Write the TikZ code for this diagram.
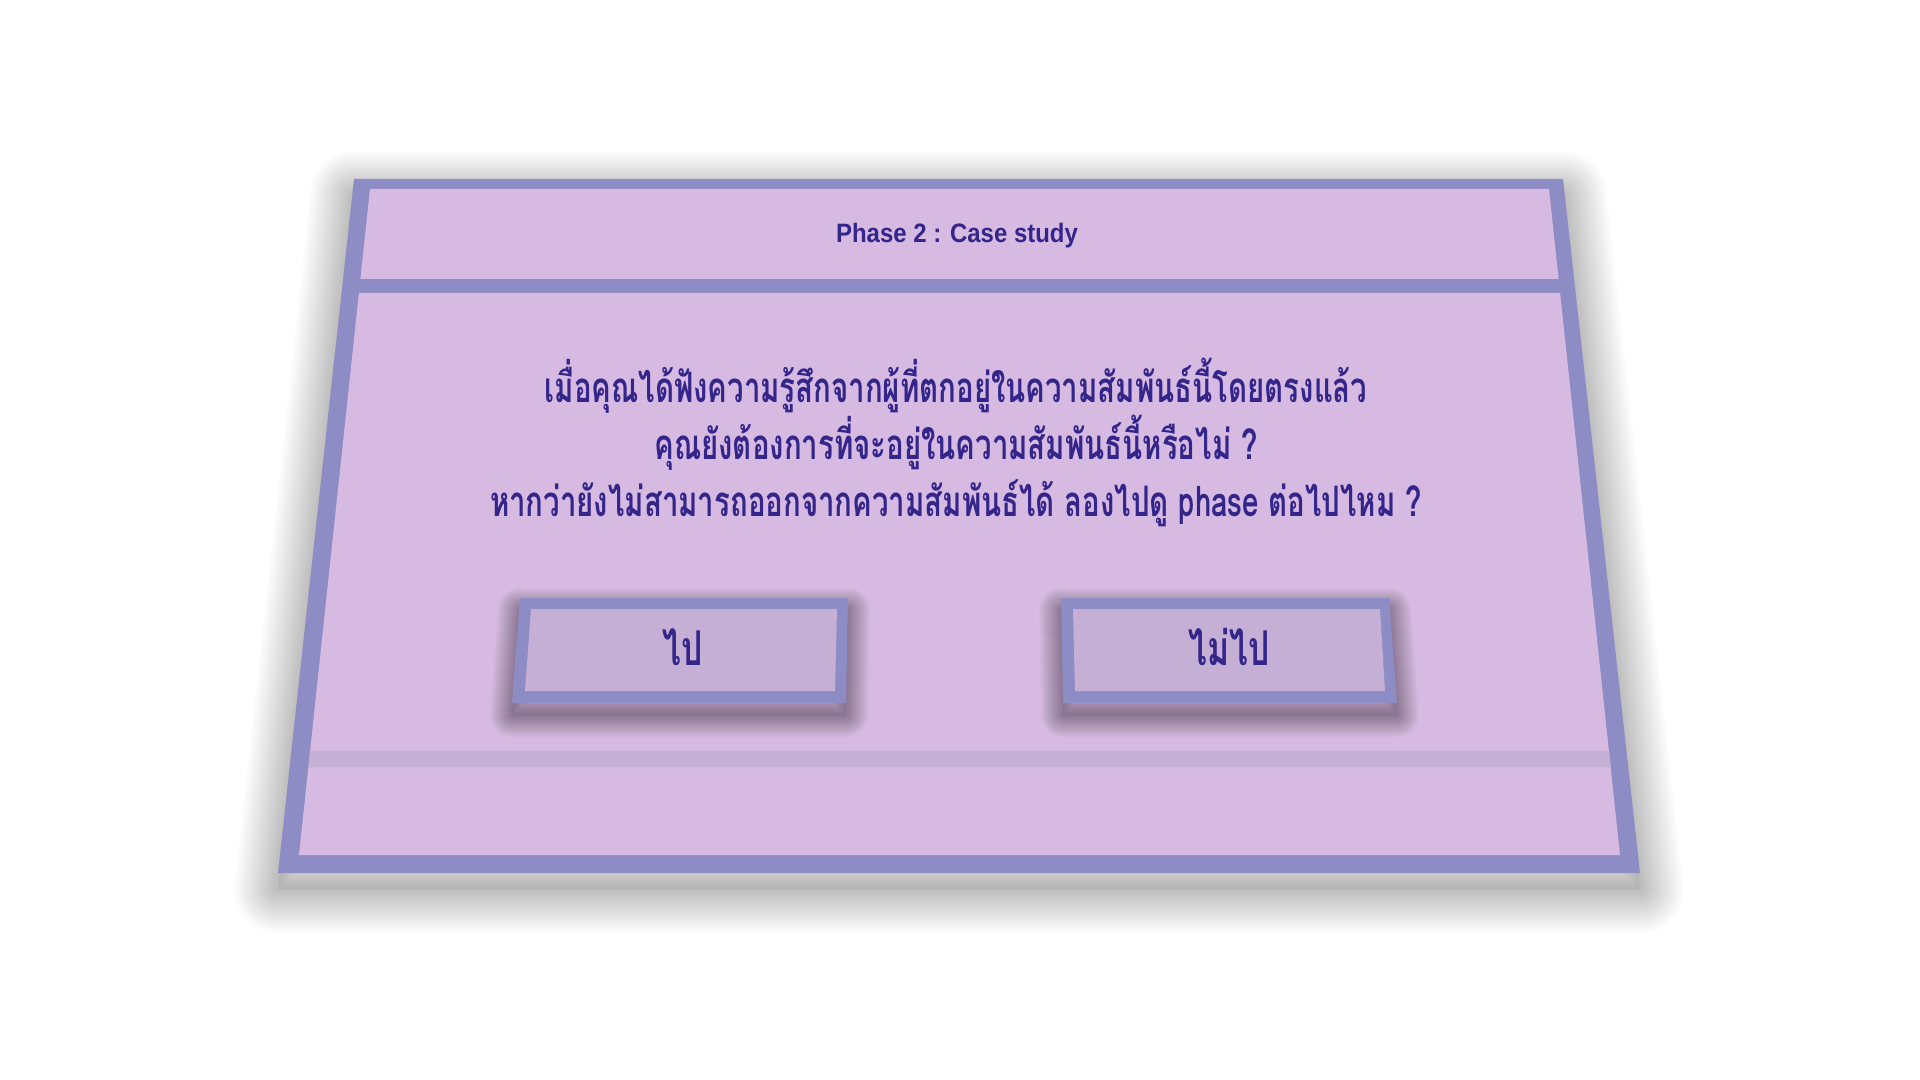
\documentclass[tikz,border=0pt]{standalone}
\usepackage{fontspec}
\setmainfont{Liberation Sans}
\newfontfamily\titlefont[FakeStretch=0.9]{Liberation Sans}
\newfontfamily\thaifont[Script=Thai,FakeStretch=0.7]{Loma}
\definecolor{frame}{HTML}{8E8CC4}
\definecolor{panel}{HTML}{D6BAE1}
\definecolor{panelDark}{HTML}{C6AFD4}
\definecolor{ink}{HTML}{33258A}
\begin{document}
\begin{tikzpicture}[x=0.5pt, y=-0.5pt, line join=round,
	glow/.style={draw=black, draw opacity=0.01, fill=none},
	btntext/.style={font=\thaifont\bfseries\fontsize{24}{28}\selectfont, text=ink}]
	\useasboundingbox (0,0) rectangle (1920,1080);
	\fill[white] (0,0) rectangle (1920,1080);
	\fill[black, opacity=0.03, yshift=-8pt] (354,179)--(1563,179)--(1640,873)--(278,873)--cycle;
	\foreach \w in {4,8,...,88}
	\draw[glow, line width=\w*0.5pt, yshift=-8pt] (354,179)--(1563,179)--(1640,873)--(278,873)--cycle;
	\fill[frame] (354,179)--(1563,179)--(1640,873)--(278,873)--cycle;
	\fill[panel] (370,189)--(1549,189)--(1558.6,279)--(360.4,279)--cycle;
	\fill[panel] (358.9,293)--(1560.1,293)--(1620,855)--(299,855)--cycle;
	\fill[panelDark] (310.1,751)--(1608.9,751)--(1610.6,767)--(308.4,767)--cycle;
	\node[font=\titlefont\bfseries\fontsize{13.3}{16}\selectfont, text=ink] (title) at (957,236) {Phase 2 : Case study};
	\node[font=\thaifont\bfseries\fontsize{21}{28.5}\selectfont, text=ink, align=center] (question) at (956,442)
		{เมื่อคุณได้ฟังความรู้สึกจากผู้ที่ตกอยู่ในความสัมพันธ์นี้โดยตรงแล้ว\\
		คุณยังต้องการที่จะอยู่ในความสัมพันธ์นี้หรือไม่ ?\\
		หากว่ายังไม่สามารถออกจากความสัมพันธ์ได้ ลองไปดู phase ต่อไปไหม ?};
	\foreach \btn in {{(520,598)--(848,598)--(846,703)--(512,703)}, {(1061,598)--(1389,598)--(1397,703)--(1063,703)}}{
		\fill[black, opacity=0.04, yshift=-6pt] \btn--cycle;
		\foreach \w in {2,4,...,44}
		\draw[glow, draw opacity=0.015, line width=\w*0.5pt, yshift=-6pt] \btn--cycle;
		\fill[frame] \btn--cycle;
	}
	\fill[panelDark] (531,609)--(837,609)--(835,691)--(525,691)--cycle;
	\fill[panelDark] (1073,609)--(1380,609)--(1385,691)--(1075,691)--cycle;
	\node[btntext] (go) at (683,647) {ไป};
	\node[btntext] (stay) at (1229,647) {ไม่ไป};
\end{tikzpicture}
\end{document}
